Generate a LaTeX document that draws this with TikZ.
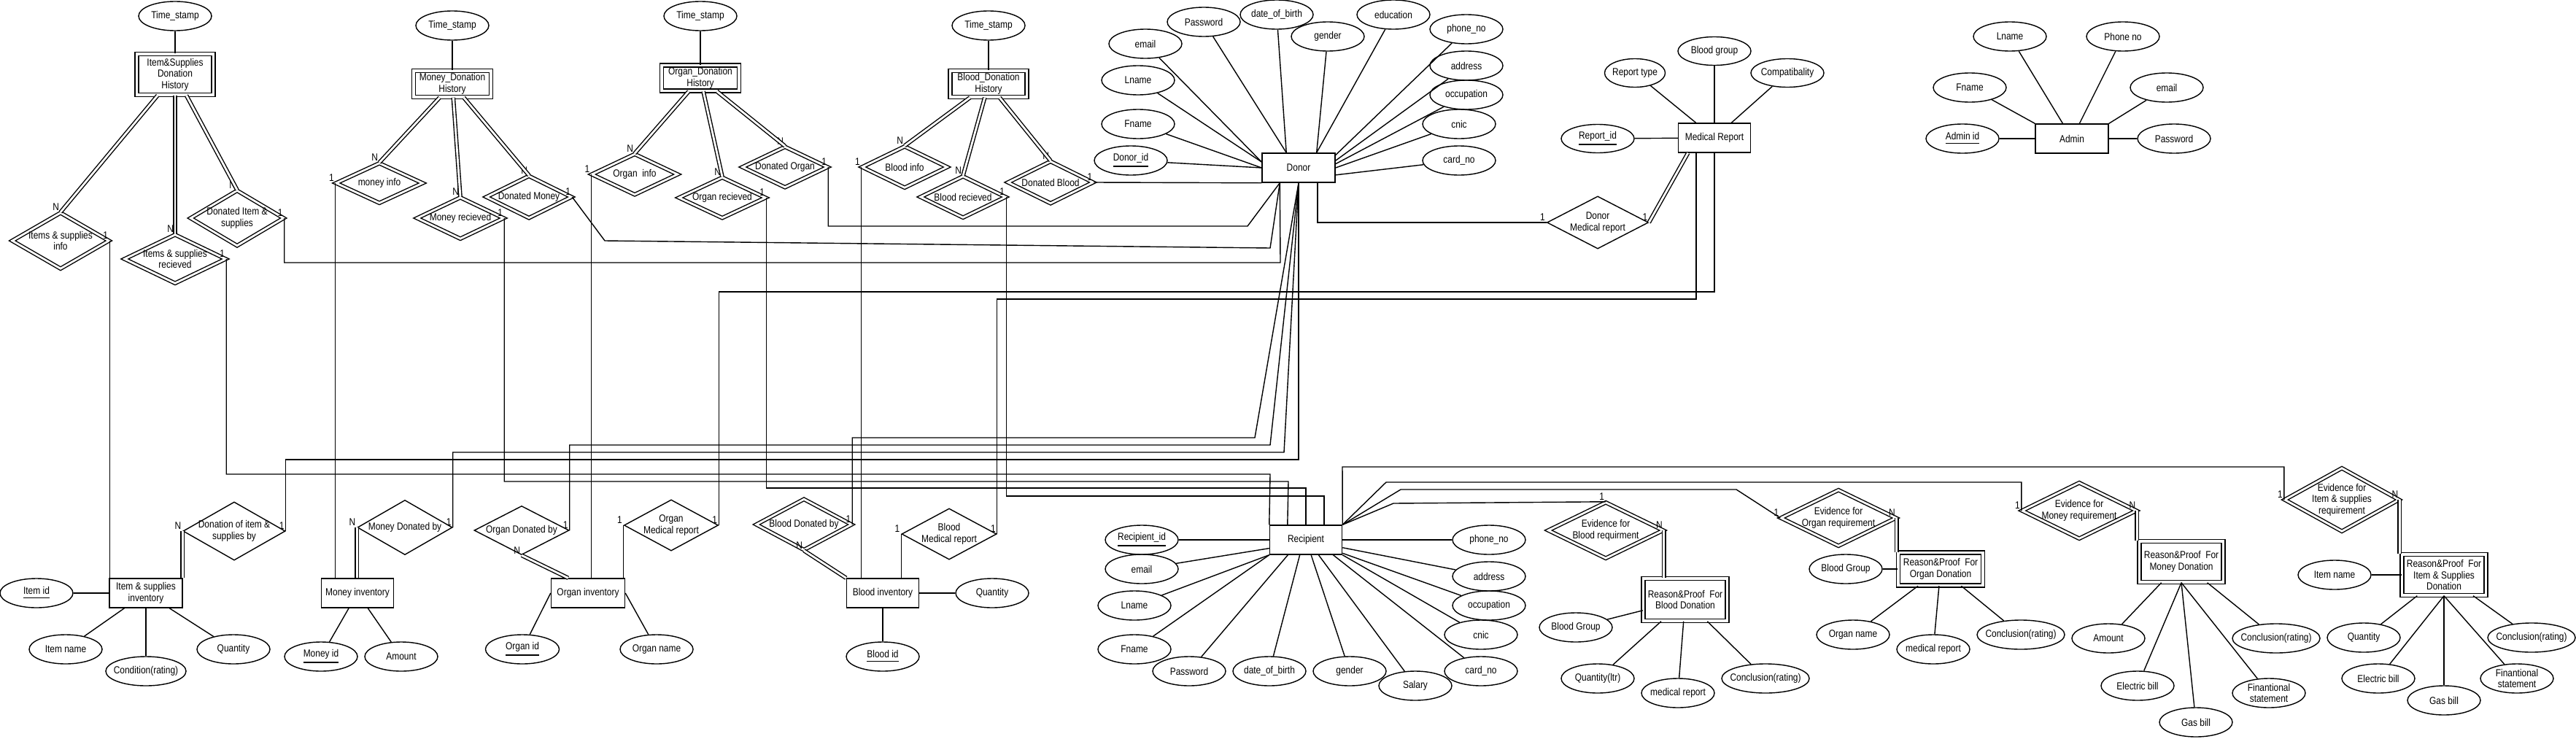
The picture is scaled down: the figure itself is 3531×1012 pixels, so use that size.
\documentclass[tikz,border=0pt]{standalone}
\usepackage{fontspec}
\newfontfamily\erfont{Liberation Sans}[FakeStretch=0.85]
\usetikzlibrary{shapes.geometric,calc}
\tikzset{
  every node/.style={font=\erfont\fontsize{4pt}{4.4pt}\selectfont},
  attr/.style={draw, ellipse, minimum width=1cm, minimum height=0.4cm, inner xsep=-4pt, inner ysep=-2pt, align=center},
  ent/.style={draw, rectangle, minimum width=1cm, minimum height=0.4cm, inner sep=0pt, align=center},
  weakent/.style={ent, double, double distance=1pt},
  rel/.style={draw, diamond, aspect=2, inner xsep=-4pt, inner ysep=-2pt, align=center},
  weakrel/.style={rel, double, double distance=0.8pt},
  card/.style={anchor=south east, inner sep=0.4pt},
  total/.style={double, double distance=0.8pt},
}
\begin{document}
\begin{tikzpicture}[x=0.01cm, y=-0.01cm, line width=0.4pt]
\useasboundingbox (0,0) rectangle (3531,1012);
\node[attr] (ItemStamp) at (240,22) {Time\_stamp};
\node[attr] (MoneyStamp) at (620,35) {Time\_stamp};
\node[attr] (OrganStamp) at (960,22) {Time\_stamp};
\node[attr] (BloodStamp) at (1355,35) {Time\_stamp};
\node[weakent, minimum width=1.05cm, minimum height=0.56cm] (ItemHistory) at (240,102) {Item\&Supplies\\Donation\\History};
\node[weakent, minimum width=1.06cm, minimum height=0.36cm] (MoneyHistory) at (620,115) {Money\_Donation\\History};
\node[weakent, minimum width=1.06cm, minimum height=0.35cm] (OrganHistory) at (960,107) {Organ\_Donation\\History};
\node[weakent, minimum width=1.05cm, minimum height=0.36cm] (BloodHistory) at (1355,115) {Blood\_Donation\\History};
\node[weakrel, minimum width=1.33cm, minimum height=0.77cm, label={[card]90:N}, label={[card]0:1}] (ItemInfo) at (83,330) {Items \& supplies\\info};
\node[weakrel, minimum width=1.39cm, minimum height=0.67cm, label={[card]90:N}, label={[card]0:1}] (ItemReceived) at (240,355) {Items \& supplies\\recieved};
\node[weakrel, minimum width=1.28cm, minimum height=0.76cm, label={[card]90:N}, label={[card]0:1}] (ItemDonated) at (325,299) {Donated Item \&\\supplies};
\node[weakrel, minimum width=1.19cm, minimum height=0.55cm, label={[card]90:N}, label={[card]180:1}] (MoneyInfo) at (520,251) {money info};
\node[weakrel, minimum width=1.19cm, minimum height=0.57cm, label={[card]90:N}, label={[card]0:1}] (MoneyReceived) at (631,299) {Money recieved};
\node[weakrel, minimum width=1.17cm, minimum height=0.58cm, label={[card]90:N}, label={[card]0:1}] (MoneyDonated) at (725,270) {Donated Money};
\node[weakrel, minimum width=1.18cm, minimum height=0.56cm, label={[card]90:N}, label={[card]180:1}] (OrganInfo) at (870,239) {Organ~ info};
\node[weakrel, minimum width=1.19cm, minimum height=0.56cm, label={[card]90:N}, label={[card]0:1}] (OrganReceived) at (990,271) {Organ recieved};
\node[weakrel, minimum width=1.17cm, minimum height=0.56cm, label={[card]90:N}, label={[card]0:1}] (OrganDonated) at (1076,229) {Donated Organ};
\node[weakrel, minimum width=1.17cm, minimum height=0.57cm, label={[card]90:N}, label={[card]180:1}] (BloodInfo) at (1240,229) {Blood info};
\node[weakrel, minimum width=1.17cm, minimum height=0.57cm, label={[card]90:N}, label={[card]0:1}] (BloodReceived) at (1320,270) {Blood recieved};
\node[weakrel, minimum width=1.17cm, minimum height=0.58cm, label={[card]90:N}, label={[card]0:1}] (BloodDonated) at (1440,250) {Donated Blood};
\node[ent] (Donor) at (1780,230) {Donor};
\node[attr] (DonorId) at (1550,220) {\underline{Donor\_id}};
\node[attr] (DonorFname) at (1560,170) {Fname};
\node[attr] (DonorLname) at (1560,110) {Lname};
\node[attr] (DonorEmail) at (1570,60) {email};
\node[attr] (DonorPassword) at (1650,30) {Password};
\node[attr] (DonorBirth) at (1750,20) {date\_of\_birth};
\node[attr] (DonorGender) at (1820,50) {gender};
\node[attr] (DonorEducation) at (1910,20) {education};
\node[attr] (DonorPhone) at (2010,40) {phone\_no};
\node[attr] (DonorAddress) at (2010,90) {address};
\node[attr] (DonorOccupation) at (2010,130) {occupation};
\node[attr] (DonorCnic) at (2000,170) {cnic};
\node[attr] (DonorCard) at (2000,220) {card\_no};
\node[rel, minimum width=1.39cm, minimum height=0.72cm, label={[card]180:1}, label={[card]0:1}] (DonorReport) at (2190,305) {Donor\\Medical report};
\node[ent, minimum width=0.99cm] (MedicalReport) at (2350,189) {Medical Report};
\node[attr, minimum width=0.83cm, minimum height=0.39cm] (ReportType) at (2241,100) {Report type};
\node[attr, minimum height=0.39cm] (ReportBlood) at (2350,70) {Blood group};
\node[attr, minimum height=0.39cm] (ReportCompat) at (2450,100) {Compatibality};
\node[attr, minimum height=0.39cm] (ReportId) at (2190,190) {\underline{Report\_id}};
\node[ent] (Admin) at (2840,190) {Admin};
\node[attr] (AdminId) at (2690,190) {\underline{Admin id}};
\node[attr] (AdminFname) at (2700,120) {Fname};
\node[attr] (AdminLname) at (2755,50) {Lname};
\node[attr] (AdminPhone) at (2910,50) {Phone no};
\node[attr] (AdminEmail) at (2970,120) {email};
\node[attr] (AdminPassword) at (2980,190) {Password};
\node[ent] (ItemInventory) at (200,813) {Item \& supplies\\inventory};
\node[attr] (ItemId) at (50,813) {\underline{Item id}};
\node[attr] (ItemName) at (90,890) {Item name};
\node[attr, minimum width=1.1cm] (ItemCondition) at (200,920) {Condition(rating)};
\node[attr] (ItemQuantity) at (320,890) {Quantity};
\node[rel, minimum width=1.4cm, minimum height=0.8cm, label={[card]180:N}, label={[card]0:1}] (ItemBy) at (321,728) {Donation of item \&\\supplies by};
\node[ent, minimum width=0.99cm] (MoneyInventory) at (490,813) {Money inventory};
\node[attr] (MoneyId) at (440,900) {\underline{Money id}};
\node[attr] (MoneyAmount) at (550,900) {Amount};
\node[rel, minimum width=1.3cm, minimum height=0.75cm, label={[card]180:N}, label={[card]0:1}] (MoneyBy) at (555,723) {Money Donated by};
\node[rel, minimum width=1.3cm, minimum height=0.67cm, label={[card]0:1}, label={[card]270:N}] (OrganBy) at (715,727) {Organ Donated by};
\node[ent, minimum width=1.01cm] (OrganInventory) at (806,813) {Organ inventory};
\node[attr, minimum width=1.01cm] (OrganId) at (716,890) {\underline{Organ id}};
\node[attr] (OrganName) at (900,890) {Organ name};
\node[rel, minimum width=1.29cm, minimum height=0.7cm, label={[card]180:1}, label={[card]0:1}] (OrganReport) at (920,720) {Organ\\Medical report};
\node[weakrel, minimum width=1.31cm, minimum height=0.7cm, label={[card]0:1}, label={[card]270:N}] (BloodBy) at (1102,719) {Blood Donated by};
\node[ent, minimum width=0.99cm] (BloodInventory) at (1210,813) {Blood inventory};
\node[attr] (BloodId) at (1210,900) {\underline{Blood id}};
\node[attr] (BloodQuantity) at (1360,813) {Quantity};
\node[rel, minimum width=1.3cm, minimum height=0.7cm, label={[card]180:1}, label={[card]0:1}] (BloodReport) at (1301,732) {Blood\\Medical report};
\node[ent, minimum width=0.99cm] (Recipient) at (1790,740) {Recipient};
\node[attr] (RecipientId) at (1565,740) {\underline{Recipient\_id}};
\node[attr] (RecipientEmail) at (1565,780) {email};
\node[attr] (RecipientLname) at (1555,830) {Lname};
\node[attr] (RecipientFname) at (1555,890) {Fname};
\node[attr] (RecipientPassword) at (1630,920) {Password};
\node[attr] (RecipientBirth) at (1740,920) {date\_of\_birth};
\node[attr] (RecipientGender) at (1850,920) {gender};
\node[attr] (RecipientSalary) at (1940,940) {Salary};
\node[attr] (RecipientCard) at (2030,920) {card\_no};
\node[attr] (RecipientCnic) at (2030,870) {cnic};
\node[attr] (RecipientOccupation) at (2041,830) {occupation};
\node[attr] (RecipientAddress) at (2041,790) {address};
\node[attr] (RecipientPhone) at (2041,740) {phone\_no};
\node[weakrel, minimum width=1.58cm, minimum height=0.77cm, label={[card]90:1}, label={[card]0:N}] (BloodEvidence) at (2201,727) {Evidence for\\Blood requirment};
\node[weakent, minimum width=1.15cm, minimum height=0.58cm] (BloodReason) at (2310,822) {Reason\&Proof~ For\\Blood Donation};
\node[attr] (BloodReasonGroup) at (2160,860) {Blood Group};
\node[attr] (BloodReasonQuantity) at (2190,930) {Quantity(ltr)};
\node[attr] (BloodReasonReport) at (2300,950) {medical report};
\node[attr, minimum width=1.2cm] (BloodReasonConclusion) at (2420,930) {Conclusion(rating)};
\node[weakrel, minimum width=1.58cm, minimum height=0.77cm, label={[card]180:1}, label={[card]0:N}] (OrganEvidence) at (2520,710) {Evidence for\\Organ requirement};
\node[weakent, minimum width=1.16cm, minimum height=0.45cm] (OrganReason) at (2660,780) {Reason\&Proof~ For\\Organ Donation};
\node[attr] (OrganReasonGroup) at (2530,780) {Blood Group};
\node[attr] (OrganReasonName) at (2540,870) {Organ name};
\node[attr] (OrganReasonReport) at (2650,890) {medical report};
\node[attr, minimum width=1.2cm] (OrganReasonConclusion) at (2770,870) {Conclusion(rating)};
\node[weakrel, minimum width=1.57cm, minimum height=0.77cm, label={[card]180:1}, label={[card]0:N}] (MoneyEvidence) at (2850,700) {Evidence for\\Money requirement};
\node[weakent, minimum width=1.15cm, minimum height=0.56cm] (MoneyReason) at (2990,770) {Reason\&Proof~ For\\Money Donation};
\node[attr] (MoneyReasonAmount) at (2890,875) {Amount};
\node[attr] (MoneyReasonElectric) at (2930,940) {Electric bill};
\node[attr] (MoneyReasonGas) at (3010,990) {Gas bill};
\node[attr] (MoneyReasonStatement) at (3110,950) {Finantional\\statement};
\node[attr, minimum width=1.2cm] (MoneyReasonConclusion) at (3120,875) {Conclusion(rating)};
\node[weakrel, minimum width=1.57cm, minimum height=0.87cm, label={[card]180:1}, label={[card]0:N}] (ItemEvidence) at (3210,685) {Evidence for\\Item \& supplies\\requirement};
\node[weakent, minimum width=1.15cm, minimum height=0.56cm] (ItemReason) at (3350,788) {Reason\&Proof~ For\\Item \& Supplies\\Donation};
\node[attr] (ItemReasonName) at (3200,788) {Item name};
\node[attr] (ItemReasonQuantity) at (3240,874) {Quantity};
\node[attr] (ItemReasonElectric) at (3260,930) {Electric bill};
\node[attr] (ItemReasonGas) at (3350,960) {Gas bill};
\node[attr] (ItemReasonStatement) at (3450,930) {Finantional\\statement};
\node[attr, minimum width=1.2cm] (ItemReasonConclusion) at (3470,874) {Conclusion(rating)};
\draw (ItemStamp) -- (ItemHistory);
\draw (MoneyStamp) -- (MoneyHistory);
\draw (OrganStamp) -- (OrganHistory);
\draw (BloodStamp) -- (BloodHistory);
\draw[total] (ItemHistory) -- (ItemInfo.north);
\draw[total] (ItemHistory) -- (ItemReceived.north);
\draw[total] (ItemHistory) -- (ItemDonated.north);
\draw[total] (MoneyHistory) -- (MoneyInfo.north);
\draw[total] (MoneyHistory) -- (MoneyReceived.north);
\draw[total] (MoneyHistory) -- (MoneyDonated.north);
\draw[total] (OrganHistory) -- (OrganInfo.north);
\draw[total] (OrganHistory) -- (OrganReceived.north);
\draw[total] (OrganHistory) -- (OrganDonated.north);
\draw[total] (BloodHistory) -- (BloodInfo.north);
\draw[total] (BloodHistory) -- (BloodReceived.north);
\draw[total] (BloodHistory) -- (BloodDonated.north);
\draw (DonorId) -- (Donor.west);
\draw (DonorFname) -- (Donor.west);
\draw (DonorLname) -- (Donor.171);
\draw (DonorEmail) -- (Donor.171);
\draw (DonorPassword) -- (Donor.129);
\draw (DonorBirth) -- (Donor.129);
\draw (DonorGender) -- (Donor.40);
\draw (DonorEducation) -- (Donor.40);
\draw (DonorPhone) -- (Donor.19);
\draw (DonorAddress) -- (Donor.11);
\draw (DonorOccupation) -- (Donor.6);
\draw (DonorCnic) -- (Donor.east);
\draw (DonorCard) -- (Donor.349);
\draw (ReportType) -- (MedicalReport);
\draw (ReportBlood) -- (MedicalReport);
\draw (ReportCompat) -- (MedicalReport);
\draw (ReportId) -- (MedicalReport);
\draw (AdminId) -- (Admin);
\draw (AdminFname) -- (Admin.north west);
\draw (AdminLname) -- (Admin);
\draw (AdminPhone) -- (Admin);
\draw (AdminEmail) -- (Admin.north east);
\draw (AdminPassword) -- (Admin);
\draw (BloodDonated.east) -- (Donor.south west);
\draw (OrganDonated.east) |- (1710,310) -- ($(Donor.south west)+(25,0)$);
\draw (MoneyDonated.east) -- (829,330) -- (1741,340) -- ($(Donor.south west)+(25,0)$);
\draw (ItemDonated.east) |- (1755,360) -- ($(Donor.south west)+(25,0)$);
\draw ($(Donor.south)+(26,0)$) |- (DonorReport.west);
\draw[total] (DonorReport.east) -- ($(MedicalReport.south west)+(14,0)$);
\draw (OrganReport.east) |- (2350,400) -- (MedicalReport.south);
\draw (BloodReport.east) |- (2325,410) -- ($(MedicalReport.south)+(-25,0)$);
\draw (Donor.south) -- (1720,600) -| (BloodBy.east);
\draw (Donor.south) -- (1741,610) -| (OrganBy.east);
\draw (Donor.south) -- (1760,620) -| (MoneyBy.east);
\draw (Donor.south) -- (1780,630) -| (ItemBy.east);
\draw (ItemReceived.east) |- (1741,650) -- (Recipient.north west);
\draw (MoneyReceived.east) |- (1766,660) -- ($(Recipient.north west)+(25,0)$);
\draw (OrganReceived.east) |- (1790,669) -- (Recipient.north);
\draw (BloodReceived.east) |- (1815,680) -- ($(Recipient.north)+(25,0)$);
\draw (ItemInfo.east) -- (ItemInfo.east |- ItemInventory.north);
\draw (MoneyInfo.west) -- (MoneyInfo.west |- MoneyInventory.north);
\draw (OrganInfo.west) -- (OrganInfo.west |- OrganInventory.north);
\draw (BloodInfo.west) -- (BloodInfo.west |- BloodInventory.north);
\draw[total] (ItemBy.west) -- (ItemBy.west |- ItemInventory.north);
\draw[total] (MoneyBy.west) -- (MoneyBy.west |- MoneyInventory.north);
\draw[total] (OrganBy.south) -- ($(OrganInventory.north west)+(24,0)$);
\draw[total] (BloodBy.south) -- (BloodInventory.north west);
\draw (OrganReport.west) -- (OrganReport.west |- OrganInventory.north);
\draw (BloodReport.west) -- (BloodReport.west |- BloodInventory.north);
\draw (ItemId) -- (ItemInventory);
\draw (ItemName) -- (ItemInventory);
\draw (ItemCondition) -- (ItemInventory);
\draw (ItemQuantity) -- (ItemInventory);
\draw (MoneyId) -- (MoneyInventory);
\draw (MoneyAmount) -- (MoneyInventory);
\draw (OrganId) -- (OrganInventory.west);
\draw (OrganName) -- (OrganInventory.east);
\draw (BloodId) -- (BloodInventory);
\draw (BloodQuantity) -- (BloodInventory);
\draw (RecipientId) -- (Recipient.west);
\draw (RecipientEmail) -- (Recipient.193);
\draw (RecipientLname) -- (Recipient.south west);
\draw (RecipientFname) -- (Recipient.south west);
\draw (RecipientPassword) -- (Recipient.220);
\draw (RecipientBirth) -- (Recipient.248);
\draw (RecipientGender) -- (Recipient.289);
\draw (RecipientSalary) -- (Recipient.310);
\draw (RecipientCard) -- (Recipient.331);
\draw (RecipientCnic) -- (Recipient.south east);
\draw (RecipientOccupation) -- (Recipient.340);
\draw (RecipientAddress) -- (Recipient.348);
\draw (RecipientPhone) -- (Recipient.east);
\draw (Recipient.north east) -- (1910,690) -- (BloodEvidence.north);
\draw (Recipient.north east) -- (1920,671) -- (2380,671) -- (OrganEvidence.west);
\draw (Recipient.north east) -- (1900,661) -| (MoneyEvidence.west);
\draw (Recipient.north east) -- (1840,640) -| (ItemEvidence.west);
\draw[total] (BloodEvidence.east) -- (BloodEvidence.east |- BloodReason.north);
\draw[total] (OrganEvidence.east) -- (OrganEvidence.east |- OrganReason.north);
\draw[total] (MoneyEvidence.east) -- (MoneyEvidence.east |- MoneyReason.north);
\draw[total] (ItemEvidence.east) -- (ItemEvidence.east |- ItemReason.north);
\draw (BloodReasonGroup) -- (BloodReason);
\draw (BloodReasonQuantity) -- (BloodReason);
\draw (BloodReasonReport) -- (BloodReason);
\draw (BloodReasonConclusion) -- (BloodReason);
\draw (OrganReasonGroup) -- (OrganReason);
\draw (OrganReasonName) -- (OrganReason);
\draw (OrganReasonReport) -- (OrganReason);
\draw (OrganReasonConclusion) -- (OrganReason);
\draw (MoneyReasonAmount) -- (MoneyReason);
\draw (MoneyReasonElectric) -- (MoneyReason.south);
\draw (MoneyReasonGas) -- (MoneyReason.south);
\draw (MoneyReasonStatement) -- (MoneyReason.south);
\draw (MoneyReasonConclusion) -- (MoneyReason);
\draw (ItemReasonName) -- (ItemReason);
\draw (ItemReasonQuantity) -- (ItemReason);
\draw (ItemReasonElectric) -- (ItemReason.south);
\draw (ItemReasonGas) -- (ItemReason.south);
\draw (ItemReasonStatement) -- (ItemReason.south);
\draw (ItemReasonConclusion) -- (ItemReason);
\end{tikzpicture}
\end{document}
